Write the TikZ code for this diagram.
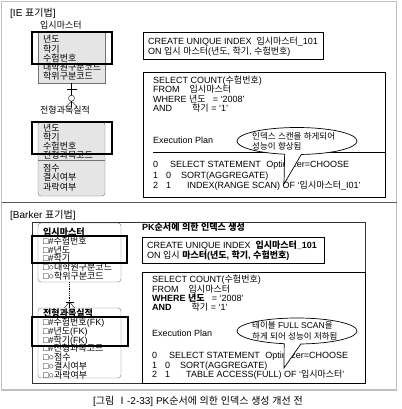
\documentclass[tikz,border=0pt]{standalone}
\usepackage{fontspec}
\setmainfont{Liberation Sans}
\newfontfamily\krfont{Noto Sans CJK KR}
\usetikzlibrary{positioning,calc,shapes.callouts}

% Hangul is set in the CJK family, everything else in Liberation Sans
\XeTeXinterchartokenstate=1
\newXeTeXintercharclass\krclass
\count255="AC00
\loop\ifnum\count255<"D7A4
    \XeTeXcharclass\count255=\krclass
    \advance\count255 by 1
\repeat
\XeTeXcharclass"2160=\krclass
\XeTeXinterchartoks 0 \krclass = {\begingroup\krfont}
\XeTeXinterchartoks 4095 \krclass = {\begingroup\krfont}
\XeTeXinterchartoks \krclass 0 = {\endgroup}
\XeTeXinterchartoks \krclass 4095 = {\endgroup}

\newcommand{\rowfont}{\fontsize{9}{11}\selectfont}

\tikzset{
    txt/.style={anchor=west, inner sep=0pt, text height=7pt, text depth=0pt, font=\rowfont},
    bubtxt/.style={anchor=west, inner sep=0pt, align=left, font=\fontsize{8.5}{10.5}\selectfont},
    iebox/.style={draw=black!55, fill=black!10, inner sep=0pt},
    bkbox/.style={draw=black!55, fill=white, rounded corners=3pt, inner sep=0pt},
    pkframe/.style={draw=black, line width=1.2pt},
    sqlbox/.style={draw=black, line width=0.9pt, fill=white, inner sep=0pt},
    bubble/.style={ellipse callout, draw=black, line width=0.7pt, fill=white,
        inner sep=0pt, callout pointer arc=16}
}

\begin{document}
\begin{tikzpicture}[x=1pt,y=-1pt]
        \useasboundingbox (0,0) rectangle (401,409);
        \fill[white] (0,0) rectangle (401,409);

        % Frame
        \draw[black!25, line width=1.5pt] (1.5,1.5) rectangle (396.5,390);
        \draw[black!65, line width=0.7pt] (1.5,202) -- (396.5,202);

        % IE notation
        \node[txt, font=\fontsize{10}{11}\selectfont] (IETitle) at (10,13) {[IE 표기법]};
        \node[txt] (IEMasterName) at (40,25) {입시마스터};
        \node[iebox, minimum width=67, minimum height=51] (IEMaster) at (71.5,57.5) {};
        \draw[black!55] (38,63.5) -- (105,63.5);
        \foreach \t [count=\i] in {년도,학기,수험번호,대학원구분코드,학위구분코드}
        {
            \node[txt] (IEMaster-\i) at (43,30.3+9.2*\i) {\t};
        }

        \node[txt] (IEResultName) at (40,110) {전형과목실적};
        \node[iebox, rounded corners=3pt, minimum width=67, minimum height=74] (IEResult) at (71.5,159) {};
        \draw[black!55] (38,160.5) -- (105,160.5);
        \foreach \t [count=\i] in {년도,학기,수험번호,전형과목코드}
        {
            \node[txt] (IEResult-\i) at (43,118.3+9.2*\i) {\t};
        }
        \foreach \t [count=\i] in {점수,결시여부,과락여부}
        {
            \node[txt] (IEAttr-\i) at (43,158.6+9.4*\i) {\t};
        }

        % IE relationship
        \coordinate (IEFoot) at ($(IEMaster.south)+(0,24)$);
        \draw (IEMaster.south) -- (IEFoot);
        \draw ($(IEMaster.south)+(-5,6)$) -- ++(10,0);
        \draw[fill=white] ($(IEMaster.south)+(0,15)$) circle (3);
        \draw ($(IEFoot)+(0,-6)$) -- ($(IEFoot)+(-6,0)$)
              ($(IEFoot)+(0,-6)$) -- ($(IEFoot)+(6,0)$);

        \draw[pkframe] (32,32) rectangle (112,64);
        \draw[pkframe] (32,122) rectangle (112,154);

        % IE index and query
        \node[sqlbox, minimum width=180, minimum height=27] (IEIndex) at (233,45.5) {};
        \node[txt] (IEIndex-1) at (148,41) {CREATE UNIQUE INDEX\hspace{5pt}입시마스터\_101};
        \node[txt] (IEIndex-2) at (148,51) {ON 입시 마스터(년도, 학기, 수험번호)};

        \node[sqlbox, minimum width=242, minimum height=125] (IEQuery) at (264,134.5) {};
        \node[txt] (IEQuery-1) at (153,80) {SELECT COUNT(수험번호)};
        \node[txt] (IEQuery-2) at (153,89.5) {FROM\hspace{10pt}입시마스터};
        \node[txt] (IEQuery-3) at (153,99) {WHERE 년도\hspace{7pt}= ‘2008’};
        \node[txt] (IEQuery-4) at (153,108.5) {AND\hspace{20pt}학기 = ‘1’};
        \node[txt] (IEPlan) at (153,140) {Execution Plan};
        \draw[line width=0.8pt] (153,152) -- (IEQuery.east |- 0,152);
        \node[txt] (IEPlan-1) at (153,164) {0\hspace{12pt}SELECT STATEMENT\hspace{5.5pt}Optimizer=CHOOSE};
        \node[txt] (IEPlan-2) at (153,174.5) {1\hspace{8pt}0\hspace{10pt}SORT(AGGREGATE)};
        \node[txt] (IEPlan-3) at (153,185) {2\hspace{8pt}1\hspace{16pt}INDEX(RANGE SCAN) OF ‘입시마스터\_I01’};

        \node[bubble, minimum width=120, minimum height=27,
            callout absolute pointer={(284,184)}] (IEBubble) at (297,141) {};
        \node[bubtxt] (IEBubbleText) at (252,141.5) {인덱스 스캔을 하게되어\\성능이 향상됨};

        % Barker notation
        \node[txt, font=\fontsize{10}{11}\selectfont] (BKTitle) at (10,215) {[Barker 표기법]};
        \draw[black!80] (32,222) rectangle (365,383);

        \node[bkbox, minimum width=83, minimum height=59] (BKMaster) at (79.5,252.5) {};
        \node[txt, font=\rowfont\bfseries] (BKMasterName) at (43,232) {입시마스터};
        \foreach \t [count=\i] in {□\#수험번호,□\#년도,□\#학기,□○대학원구분코드,□○학위구분코드}
        {
            \node[txt] (BKMaster-\i) at (43,232.3+8.7*\i) {\t};
        }

        \node[bkbox, minimum width=83, minimum height=70] (BKResult) at (79.5,343) {};
        \node[txt, font=\rowfont\bfseries] (BKResultName) at (43,313) {전형과목실적};
        \foreach \t [count=\i] in {□\#수험번호(FK),□\#년도(FK),□\#학기(FK),□\#전형과목코드,□○점수,□○결시여부,□○과락여부}
        {
            \node[txt] (BKResult-\i) at (43,313.2+8.8*\i) {\t};
        }

        % Barker relationship
        \coordinate (BKLink) at ($(BKMaster.south)+(-10,20)$);
        \draw[densely dotted, line width=0.8pt] ($(BKMaster.south)+(-10,0)$) -- (BKLink);
        \draw (BKLink) -- ($(BKResult.north)+(-10,0)$);
        \draw ($(BKResult.north)+(-14,-6)$) -- ++(8,0);
        \draw ($(BKResult.north)+(-10,-6)$) -- ($(BKResult.north)+(-15,0)$)
              ($(BKResult.north)+(-10,-6)$) -- ($(BKResult.north)+(-5,0)$);

        \draw[pkframe] (32,236) rectangle (127,263);
        \draw[pkframe] (32,317) rectangle (128,346);

        % Barker index and query
        \node[txt, font=\rowfont\bfseries] (BKHead) at (142,227) {PK순서에 의한 인덱스 생성};
        \node[sqlbox, minimum width=182, minimum height=26] (BKIndex) at (233,250) {};
        \node[txt] (BKIndex-1) at (147,245) {CREATE UNIQUE INDEX\hspace{5pt}\textbf{입시마스터\_101}};
        \node[txt] (BKIndex-2) at (147,255) {ON 입시 \textbf{마스터(년도, 학기, 수험번호)}};

        \node[sqlbox, minimum width=223, minimum height=111] (BKQuery) at (253.5,327.5) {};
        \node[txt] (BKQuery-1) at (152,279) {SELECT COUNT(수험번호)};
        \node[txt] (BKQuery-2) at (152,288.5) {FROM\hspace{10pt}입시마스터};
        \node[txt] (BKQuery-3) at (152,298) {\textbf{WHERE 년도}\hspace{7pt}= ‘2008’};
        \node[txt] (BKQuery-4) at (152,307) {\textbf{AND}\hspace{20pt}학기 = ‘1’};
        \node[txt] (BKPlan) at (152,333) {Execution Plan};
        \node[txt] (BKPlan-1) at (152,355) {0\hspace{12pt}SELECT STATEMENT\hspace{5.5pt}Optimizer=CHOOSE};
        \node[txt] (BKPlan-2) at (152,364.5) {1\hspace{8pt}0\hspace{10pt}SORT(AGGREGATE)};
        \node[txt] (BKPlan-3) at (152,373.5) {2\hspace{8pt}1\hspace{16pt}TABLE ACCESS(FULL) OF ‘입시마스터’};

        \node[bubble, minimum width=120, minimum height=26,
            callout absolute pointer={(284,368)}] (BKBubble) at (297,331) {};
        \node[bubtxt] (BKBubbleText) at (252,331) {테이블 FULL SCAN을\\하게 되어 성능이 저하됨};

        % Caption
        \node[font=\fontsize{10}{11}\selectfont] (Caption) at (198,401) {[그림 Ⅰ-2-33] PK순서에 의한 인덱스 생성 개선 전};
\end{tikzpicture}
\end{document}
